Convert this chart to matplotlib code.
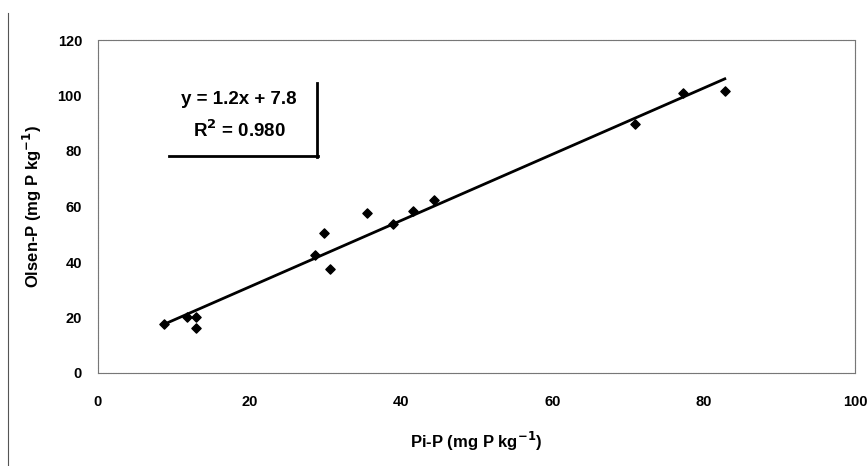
import numpy as np
import matplotlib
matplotlib.use("Agg")
import matplotlib.pyplot as plt
from matplotlib.lines import Line2D

pi_p = [8.7, 11.7, 13.0, 12.9, 28.6, 29.9, 30.7, 35.6, 39.0, 41.6, 44.4, 70.9, 77.3, 82.8]
olsen_p = [17.6, 20.2, 20.3, 16.3, 42.7, 50.5, 37.6, 57.6, 53.8, 58.2, 62.2, 89.9, 100.8, 101.6]
x_ticks = [0, 20, 40, 60, 80, 100]
y_ticks = [0, 20, 40, 60, 80, 100, 120]
eq_text = "y = 1.2x + 7.8"
r2_text = "R$^{\\mathbf{2}}$ = 0.980"

plt.rcParams['font.family'] = ['Liberation Sans', 'DejaVu Sans']

fig = plt.figure(figsize=(8.67, 4.66), dpi=100)
ax = fig.add_axes([98/867, 1-373/466, (855-98)/867, (373-40)/466])

ax.scatter(pi_p, olsen_p, marker='D', s=22, color='black', zorder=3)
slope, intercept = np.polyfit(pi_p, olsen_p, 1)
xl = np.array([min(pi_p), max(pi_p)])
ax.plot(xl, slope*xl + intercept, color='black', lw=2, zorder=2)

ax.set_xlim(0, 100)
ax.set_ylim(0, 120)
ax.set_xticks(x_ticks)
ax.set_yticks(y_ticks)
ax.tick_params(length=0, labelsize=10.5)
ax.tick_params(axis='x', pad=16)
ax.tick_params(axis='y', pad=11.5)
for lab in ax.get_xticklabels() + ax.get_yticklabels():
    lab.set_fontweight('bold')
for s in ax.spines.values():
    s.set_color('#777777')
    s.set_linewidth(0.8)
    s.set_linestyle((0, (1, 0.5)))

ax.set_xlabel("Pi-P (mg P kg$^{\\mathbf{-1}}$)", fontsize=12, fontweight='bold', labelpad=15)
ax.set_ylabel("Olsen-P (mg P kg$^{\\mathbf{-1}}$)", fontsize=12, fontweight='bold', labelpad=10)

ax.text((239-98)/757, (373-100)/333, eq_text, transform=ax.transAxes, ha='center', va='center',
        fontsize=13.5, fontweight='bold')
ax.text((239-98)/757, (373-130)/333, r2_text, transform=ax.transAxes, ha='center', va='center',
        fontsize=13.5, fontweight='bold')
# box shadow lines
fig.add_artist(Line2D([169/867, 318/867], [1-156/466, 1-156/466], color='black', lw=2))
fig.add_artist(Line2D([317/867, 317/867], [1-83/466, 1-157/466], color='black', lw=2))
# page border line on left
fig.add_artist(Line2D([8/867, 8/867], [1-13/466, 0], color='#555555', lw=0.8))

fig.savefig("out.png", dpi=100)
